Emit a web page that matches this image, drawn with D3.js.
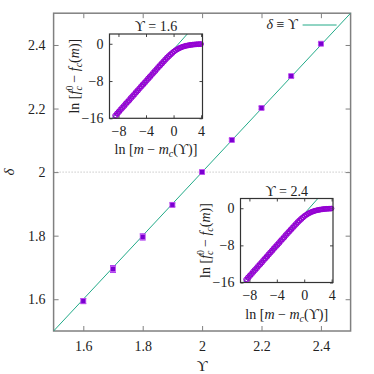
<!DOCTYPE html>
<html>
<head>
<meta charset="utf-8">
<script src="https://cdn.jsdelivr.net/npm/d3@7"></script>
<style>
	body { margin: 0; background: #fff; }
	svg { display: block; }
	svg text { font-family: "Liberation Serif", "DejaVu Serif", "Noto Serif", "Times New Roman", Times, "Nimbus Roman", FreeSerif, serif; }
</style>
</head>
<body>
<div id="chart"></div>
<script>
	'use strict';

	// main panel: exponent delta vs Upsilon
	var upsilon = [1.6, 1.7, 1.8, 1.9, 2.0, 2.1, 2.2, 2.3, 2.4];
	var delta = [1.594, 1.695, 1.796, 1.897, 2.0, 2.101, 2.202, 2.302, 2.404];
	var deltaErr = [0.008, 0.011, 0.010, 0.006, 0.004, 0.004, 0.004, 0.004, 0.004];
	var mainTicks = [1.6, 1.8, 2.0, 2.2, 2.4];
	var identityLine = [1.5, 2.5];

	// insets: ln[f_c^0 - f_c(m)] vs ln[m - m_c]
	var insetTitles = ['1.6', '2.4'];
	var insetXTicks = [-8, -4, 0, 4];
	var insetYTicks = [0, -8, -16];
	var insetFitX = [-8.9, 2.05];
	var insetFitY = [-16, 2.2];
	var lnDm = [-8.5, -8.25, -8, -7.75, -7.5, -7.25, -7, -6.75, -6.5, -6.25, -6, -5.75, -5.5, -5.25, -5,
		-4.75, -4.5, -4.25, -4, -3.75, -3.5, -3.25, -3, -2.75, -2.5, -2.25, -2, -1.75, -1.5, -1.25, -1,
		-0.75, -0.5, -0.25, 0, 0.25, 0.5, 0.75, 1, 1.25, 1.5, 1.75, 2, 2.25, 2.5, 2.75, 3, 3.25, 3.5, 3.75, 4];
	var lnDf16 = [-15.4, -14.95, -14.55, -14.1, -13.7, -13.3, -12.85, -12.45, -12.05, -11.6, -11.2, -10.8, -10.35, -9.95, -9.55,
		-9.1, -8.7, -8.3, -7.9, -7.45, -7.05, -6.65, -6.2, -5.8, -5.4, -4.95, -4.55, -4.15, -3.75, -3.35, -2.95,
		-2.6, -2.25, -1.95, -1.65, -1.38, -1.15, -0.95, -0.78, -0.64, -0.52, -0.42, -0.34, -0.27, -0.21, -0.17, -0.13, -0.1, -0.08, -0.06, -0.05];
	var lnDf24 = [-15.35, -14.9, -14.5, -14.1, -13.65, -13.25, -12.85, -12.4, -12.0, -11.6, -11.15, -10.75, -10.35, -9.9, -9.5,
		-9.1, -8.65, -8.25, -7.85, -7.45, -7.0, -6.6, -6.2, -5.75, -5.35, -4.95, -4.55, -4.15, -3.75, -3.35, -2.95,
		-2.6, -2.25, -1.95, -1.65, -1.4, -1.17, -0.97, -0.8, -0.66, -0.54, -0.44, -0.36, -0.29, -0.23, -0.18, -0.14, -0.11, -0.09, -0.07, -0.05];
	// second, slightly lower set of points (larger system)
	var lnDmB = [-8.375, -8.125, -7.875, -7.625, -7.375, -7.125, -6.875, -6.625, -6.375, -6.125, -5.875, -5.625, -5.375, -5.125,
		-4.875, -4.625, -4.375, -4.125, -3.875, -3.625, -3.375, -3.125, -2.875, -2.625, -2.375, -2.125, -1.875, -1.625, -1.375, -1.125,
		-0.875, -0.625, -0.375, -0.125, 0.125, 0.375, 0.625, 0.875, 1.125, 1.375, 1.625, 1.875, 2.125, 2.375, 2.625, 2.875, 3.125, 3.375, 3.625, 3.875];
	var lnDf16B = [-15.5, -15.05, -14.65, -14.2, -13.8, -13.4, -12.95, -12.55, -12.15, -11.7, -11.3, -10.9, -10.45, -10.05,
		-9.6, -9.2, -8.8, -8.4, -7.95, -7.55, -7.15, -6.7, -6.3, -5.9, -5.45, -5.05, -4.65, -4.25, -3.85, -3.45,
		-3.05, -2.7, -2.35, -2.0, -1.65, -1.4, -1.17, -0.97, -0.8, -0.66, -0.54, -0.45, -0.37, -0.3, -0.25, -0.2, -0.16, -0.13, -0.11, -0.09];
	var lnDf24B = [-15.45, -15.05, -14.6, -14.2, -13.75, -13.35, -12.95, -12.5, -12.1, -11.7, -11.25, -10.85, -10.45, -10.0,
		-9.6, -9.2, -8.75, -8.35, -7.95, -7.55, -7.1, -6.7, -6.3, -5.85, -5.45, -5.05, -4.65, -4.25, -3.85, -3.45,
		-3.05, -2.7, -2.35, -2.0, -1.68, -1.42, -1.19, -0.99, -0.82, -0.68, -0.56, -0.46, -0.38, -0.31, -0.25, -0.2, -0.16, -0.13, -0.11, -0.09];

	var purple = '#9400d3',
		teal = '#22aa88',
		frameGray = '#808080';

	var svg = d3.select('#chart')
		.append('svg')
		.attr('width', 374)
		.attr('height', 374);

	var margin = { top: 13.2, right: 23.4, bottom: 43, left: 53.6 },
		width = 374 - margin.left - margin.right,
		height = 374 - margin.top - margin.bottom;

	var xScale = d3.scaleLinear().domain([1.5, 2.5]).range([0, width]),
		yScale = d3.scaleLinear().domain([1.5, 2.5]).range([height, 0]);

	var fmtMain = function (d) { return d === 2 ? '2' : d3.format('.1f')(d); },
		fmtInset = function (d) { return d < 0 ? '−' + (-d) : d; };

	var appendMath = function (sel, parts) {
		var shift = 0;
		parts.forEach(function (p) {
			var s = p.shift || 0;
			sel.append('tspan')
				.attr('dy', s - shift)
				.attr('dx', p.dx || 0)
				.attr('font-style', p.it ? 'italic' : 'normal')
				.attr('font-size', p.size || null)
				.text(p.t);
			shift = s;
		});
	};

	var main = svg.append('g')
		.attr('transform', 'translate(' + margin.left + ',' + margin.top + ')');

	main.append('clipPath')
		.attr('id', 'main-clip')
		.append('rect')
		.attr('width', width)
		.attr('height', height);

	// dotted reference at delta = 2
	main.append('line')
		.attr('x1', 0)
		.attr('x2', width)
		.attr('y1', yScale(2))
		.attr('y2', yScale(2))
		.attr('stroke', '#b0b0b0')
		.attr('stroke-width', 1)
		.attr('stroke-dasharray', '1,2');

	// axes (ticks inward, mirrored)
	main.append('g')
		.attr('transform', 'translate(0,' + height + ')')
		.call(d3.axisBottom(xScale).tickValues(mainTicks).tickSize(-5).tickPadding(10).tickFormat(fmtMain));
	main.append('g')
		.call(d3.axisTop(xScale).tickValues(mainTicks).tickSize(-5).tickFormat(''));
	main.append('g')
		.call(d3.axisLeft(yScale).tickValues(mainTicks).tickSize(-5).tickPadding(8).tickFormat(fmtMain));
	main.append('g')
		.attr('transform', 'translate(' + width + ',0)')
		.call(d3.axisRight(yScale).tickValues(mainTicks).tickSize(-5).tickFormat(''));

	main.selectAll('.domain').remove();
	main.selectAll('.tick line').attr('stroke', frameGray).attr('stroke-width', 1);
	main.selectAll('g')
		.attr('font-family', null)
		.attr('font-size', null);
	main.selectAll('.tick text')
		.attr('font-size', 14)
		.attr('fill', '#222');

	main.append('rect')
		.attr('width', width)
		.attr('height', height)
		.attr('fill', 'none')
		.attr('stroke', frameGray)
		.attr('stroke-width', 1.5);

	// delta = Upsilon
	main.append('line')
		.attr('clip-path', 'url(#main-clip)')
		.attr('x1', xScale(identityLine[0]))
		.attr('y1', yScale(identityLine[0]))
		.attr('x2', xScale(identityLine[1]))
		.attr('y2', yScale(identityLine[1]))
		.attr('stroke', teal)
		.attr('stroke-width', 1);

	// error bars
	var pts = main.append('g').selectAll('g')
		.data(upsilon)
		.enter()
		.append('g');

	pts.append('line')
		.attr('x1', function (d) { return xScale(d); })
		.attr('x2', function (d) { return xScale(d); })
		.attr('y1', function (d, i) { return yScale(delta[i] - deltaErr[i]); })
		.attr('y2', function (d, i) { return yScale(delta[i] + deltaErr[i]); })
		.attr('stroke', '#b040f0')
		.attr('stroke-width', 1);
	[-1, 1].forEach(function (sgn) {
		pts.append('line')
			.attr('x1', function (d) { return xScale(d) - 3; })
			.attr('x2', function (d) { return xScale(d) + 3; })
			.attr('y1', function (d, i) { return yScale(delta[i] + sgn * deltaErr[i]); })
			.attr('y2', function (d, i) { return yScale(delta[i] + sgn * deltaErr[i]); })
			.attr('stroke', '#b040f0')
			.attr('stroke-width', 1);
	});
	pts.append('rect')
		.attr('x', function (d) { return xScale(d) - 2.5; })
		.attr('y', function (d, i) { return yScale(delta[i]) - 2.5; })
		.attr('width', 5)
		.attr('height', 5)
		.attr('fill', '#7a00d0')
		.attr('stroke', '#c050f0')
		.attr('stroke-width', 0.8);

	// legend
	var legendText = main.append('text')
		.attr('x', 244.4)
		.attr('y', 16.3)
		.attr('text-anchor', 'end')
		.attr('font-size', 14)
		.attr('fill', '#222');
	appendMath(legendText, [{ t: 'δ', it: true }, { t: ' ≡ ϒ' }]);
	main.append('line')
		.attr('x1', 249)
		.attr('x2', 283)
		.attr('y1', 11.8)
		.attr('y2', 11.8)
		.attr('stroke', teal)
		.attr('stroke-width', 1);

	// axis titles
	svg.append('text')
		.attr('x', margin.left + width / 2)
		.attr('y', 371)
		.attr('text-anchor', 'middle')
		.attr('font-size', 15)
		.attr('fill', '#222')
		.text('ϒ');
	svg.append('text')
		.attr('transform', 'translate(14,172) rotate(-90)')
		.attr('text-anchor', 'middle')
		.attr('font-size', 15)
		.attr('font-style', 'italic')
		.attr('fill', '#222')
		.text('δ');

	// insets
	var insetBoxes = [
		{ x: 109.5, y: 34, w: 93, h: 84.3, title: insetTitles[0], vals: lnDf16, valsB: lnDf16B },
		{ x: 240.5, y: 198.5, w: 92.5, h: 84, title: insetTitles[1], vals: lnDf24, valsB: lnDf24B }
	];

	insetBoxes.forEach(function (box, k) {
		var ix = d3.scaleLinear().domain([-9.3, 4.2]).range([0, box.w]),
			iy = d3.scaleLinear().domain([-16, 2.1]).range([box.h, 0]);

		var g = svg.append('g')
			.attr('transform', 'translate(' + box.x + ',' + box.y + ')');

		g.append('clipPath')
			.attr('id', 'inset-clip-' + k)
			.append('rect')
			.attr('width', box.w)
			.attr('height', box.h);

		g.append('rect')
			.attr('width', box.w)
			.attr('height', box.h)
			.attr('fill', '#fff');

		g.append('g')
			.attr('transform', 'translate(0,' + box.h + ')')
			.call(d3.axisBottom(ix).tickValues(insetXTicks).tickSize(-3).tickPadding(8).tickFormat(fmtInset));
		g.append('g')
			.call(d3.axisTop(ix).tickValues(insetXTicks).tickSize(-3).tickFormat(''));
		g.append('g')
			.call(d3.axisLeft(iy).tickValues(insetYTicks).tickSize(-3).tickPadding(6).tickFormat(fmtInset));
		g.append('g')
			.attr('transform', 'translate(' + box.w + ',0)')
			.call(d3.axisRight(iy).tickValues(insetYTicks).tickSize(-3).tickFormat(''));

		g.selectAll('.domain').remove();
		g.selectAll('g')
			.attr('font-family', null)
			.attr('font-size', null);
		g.selectAll('.tick line').attr('stroke', '#444');
		g.selectAll('.tick text')
			.attr('font-size', 14)
			.attr('fill', '#222');

		// fit line
		g.append('line')
			.attr('clip-path', 'url(#inset-clip-' + k + ')')
			.attr('x1', ix(insetFitX[0]))
			.attr('y1', iy(insetFitY[0]))
			.attr('x2', ix(insetFitX[1]))
			.attr('y2', iy(insetFitY[1]))
			.attr('stroke', teal)
			.attr('stroke-width', 1);

		var circles = g.append('g')
			.attr('fill', 'none')
			.attr('stroke', purple)
			.attr('stroke-width', 1);

		circles.selectAll('circle.a')
			.data(lnDm)
			.enter()
			.append('circle')
			.attr('class', 'a')
			.attr('cx', function (d) { return ix(d); })
			.attr('cy', function (d, i) { return iy(box.vals[i]); })
			.attr('r', 2.3);

		circles.selectAll('circle.b')
			.data(lnDmB)
			.enter()
			.append('circle')
			.attr('class', 'b')
			.attr('cx', function (d) { return ix(d); })
			.attr('cy', function (d, i) { return iy(box.valsB[i]); })
			.attr('r', 2.3);

		g.append('rect')
			.attr('width', box.w)
			.attr('height', box.h)
			.attr('fill', 'none')
			.attr('stroke', '#333')
			.attr('stroke-width', 1.2);

		// title
		var title = g.append('text')
			.attr('x', box.w / 2)
			.attr('y', -3)
			.attr('text-anchor', 'middle')
			.attr('font-size', 14)
			.attr('fill', '#222');
		appendMath(title, [{ t: 'ϒ = ' + box.title }]);

		// x label
		var xl = g.append('text')
			.attr('x', box.w / 2)
			.attr('y', box.h + 36)
			.attr('text-anchor', 'middle')
			.attr('font-size', 14)
			.attr('fill', '#222');
		appendMath(xl, [
			{ t: 'ln [' },
			{ t: 'm', it: true },
			{ t: ' − ' },
			{ t: 'm', it: true },
			{ t: 'c', it: true, size: 10, shift: 3 },
			{ t: '(ϒ)]' }
		]);

		// y label
		var yl = g.append('text')
			.attr('transform', 'translate(' + (-31) + ',' + (box.h / 2) + ') rotate(-90)')
			.attr('text-anchor', 'middle')
			.attr('font-size', 14)
			.attr('fill', '#222');
		appendMath(yl, [
			{ t: 'ln [' },
			{ t: 'f', it: true },
			{ t: '0', size: 10, shift: -6 },
			{ t: 'c', it: true, size: 10, shift: 3, dx: -5 },
			{ t: ' − ' },
			{ t: 'f', it: true },
			{ t: 'c', it: true, size: 10, shift: 3 },
			{ t: '(' },
			{ t: 'm', it: true },
			{ t: ')]' }
		]);
	});
</script>
</body>
</html>
